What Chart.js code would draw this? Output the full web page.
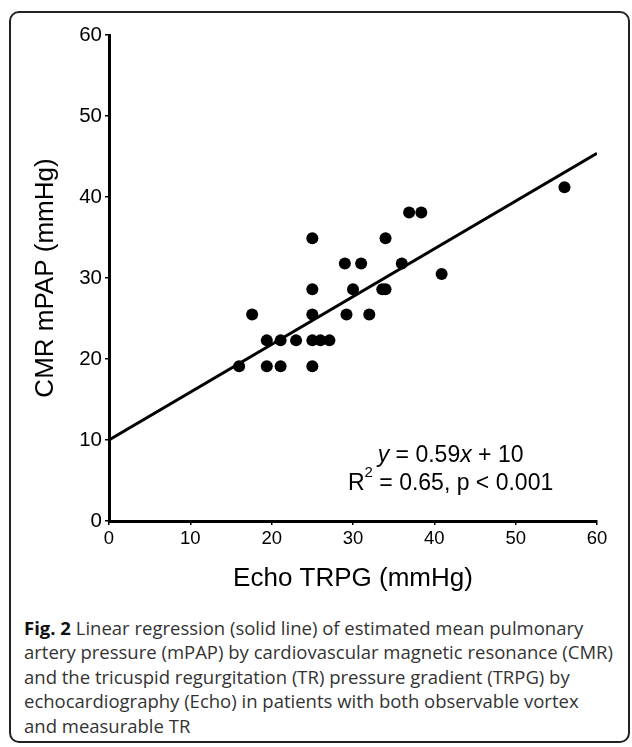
<!DOCTYPE html>
<html>
<head>
<meta charset="utf-8">
<script src="https://cdn.jsdelivr.net/npm/chart.js@4/dist/chart.umd.min.js"></script>
<style>
    body { margin: 0; background: #fff; width: 632px; height: 747px; position: relative; overflow: hidden; }
    #frame {
        position: absolute; left: 9px; top: 11px; width: 621px; height: 732px;
        box-sizing: border-box; border: 2px solid #222; border-radius: 10px;
    }
    #plot { position: absolute; left: 0; top: 0; }
    #caption {
        position: absolute; left: 24px; top: 616px;
        font-family: 'Open Sans', sans-serif; font-size: 18px; line-height: 24.4px;
        color: #333; white-space: nowrap;
    }
    #caption b { color: #111; }
</style>
</head>
<body>
<div id="frame"></div>
<canvas id="plot" width="632" height="600"></canvas>
<div id="caption">
    <div class="cap-line"><b>Fig. 2</b> Linear regression (solid line) of estimated mean pulmonary</div>
    <div class="cap-line">artery pressure (mPAP) by cardiovascular magnetic resonance (CMR)</div>
    <div class="cap-line">and the tricuspid regurgitation (TR) pressure gradient (TRPG) by</div>
    <div class="cap-line">echocardiography (Echo) in patients with both observable vortex</div>
    <div class="cap-line">and measurable TR</div>
</div>
<script>
/* ── Data ──────────────────────────────────────────────── */
const echoTRPG = [16, 19.4, 21.1, 25,
    19.4, 21.1, 23, 25, 26, 27.1,
    17.6, 25, 29.2, 32,
    25, 30, 33.6, 34,
    29, 31, 36,
    40.9,
    25, 34,
    36.9, 38.4,
    56];
const cmrMPAP = [19.1, 19.1, 19.1, 19.1,
    22.3, 22.3, 22.3, 22.3, 22.3, 22.3,
    25.5, 25.5, 25.5, 25.5,
    28.6, 28.6, 28.6, 28.6,
    31.8, 31.8, 31.8,
    30.5,
    34.9, 34.9,
    38.1, 38.1,
    41.2];
const fitX = [0, 60];
const fitY = [10, 45.4];
const axisMin = 0;
const axisMax = 60;
const tickStep = 10;

const FONT = "'Liberation Sans', Arial, sans-serif";

/* ── Regression text (y = ..., R² = ...) ───────────────── */
const eqText = {
    id: 'eqText',
    afterDatasetsDraw(chart) {
        const { ctx, scales: { x, y } } = chart;
        const cx = x.getPixelForValue(42);
        const lines = [
            { y: y.getPixelForValue(8.1), parts: [
                { t: 'y', italic: true }, { t: ' = 0.59' }, { t: 'x', italic: true }, { t: ' + 10' }] },
            { y: y.getPixelForValue(4.65), parts: [
                { t: 'R' }, { t: '2', sup: true }, { t: ' = 0.65, p < 0.001' }] },
        ];
        const fontFor = p => `${p.italic ? 'italic ' : ''}${p.sup ? 15 : 23}px ${FONT}`;
        ctx.save();
        ctx.fillStyle = '#000';
        ctx.textBaseline = 'middle';
        ctx.textAlign = 'left';
        lines.forEach(line => {
            const widths = line.parts.map(p => { ctx.font = fontFor(p); return ctx.measureText(p.t).width; });
            let px = cx - widths.reduce((a, b) => a + b, 0) / 2;
            line.parts.forEach((p, i) => {
                ctx.font = fontFor(p);
                ctx.fillText(p.t, px, p.sup ? line.y - 10 : line.y);
                px += widths[i];
            });
        });
        ctx.restore();
    }
};

function axis(title, tickSize, titlePadding, fit) {
    return {
        type: 'linear',
        min: axisMin,
        max: axisMax,
        ticks: { stepSize: tickStep, color: '#000', padding: 3, font: { family: FONT, size: tickSize } },
        grid: { drawOnChartArea: false, drawTicks: true, tickLength: 4, lineWidth: 1.5, color: '#000' },
        border: { display: true, color: '#000', width: 3 },
        title: { display: true, text: title, color: '#000', padding: titlePadding,
            font: { family: FONT, size: 26, weight: 'normal' } },
        afterFit: fit,
    };
}

new Chart(document.getElementById('plot'), {
    type: 'scatter',
    data: {
        datasets: [
            {
                label: 'Patients',
                data: echoTRPG.map((v, i) => ({ x: v, y: cmrMPAP[i] })),
                backgroundColor: '#000',
                borderWidth: 0,
                pointRadius: 6,
            },
            {
                label: 'Linear regression',
                data: fitX.map((v, i) => ({ x: v, y: fitY[i] })),
                showLine: true,
                borderColor: '#000',
                borderWidth: 3,
                pointRadius: 0,
            },
        ]
    },
    options: {
        responsive: false,
        animation: false,
        devicePixelRatio: 1,
        layout: { padding: { left: 0, top: 35, right: 35, bottom: 0 } },
        plugins: { legend: { display: false }, tooltip: { enabled: false } },
        scales: {
            x: axis('Echo TRPG (mmHg)', 18.5, { top: 0, bottom: 6 }, s => { s.height = 79; }),
            y: axis('CMR mPAP (mmHg)', 20.5, { top: 30, bottom: 0 }, s => { s.width = 109; }),
        }
    },
    plugins: [eqText]
});

/* ── Caption: fit the full lines to the frame width ─────── */
(function fitCaption() {
    const cap = document.getElementById('caption');
    const line = cap.querySelectorAll('.cap-line')[1];
    const span = document.createElement('span');
    span.textContent = line.textContent;
    line.textContent = '';
    line.appendChild(span);
    const sw = span.getBoundingClientRect().width;
    cap.style.fontSize = (18 * 589 / sw).toFixed(2) + 'px';
})();
</script>
</body>
</html>
